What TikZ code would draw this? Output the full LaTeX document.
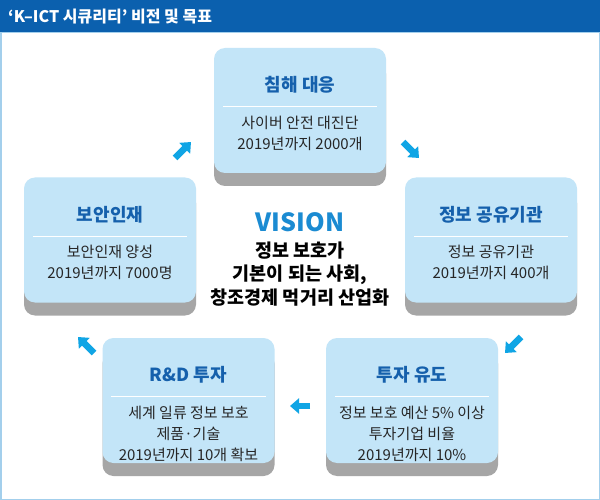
\documentclass[tikz,border=0pt]{standalone}
\usepackage{fontspec}
\setmainfont{Noto Sans CJK KR}
\usetikzlibrary{arrows.meta, positioning, calc}
\definecolor{barblue}{HTML}{0B60AE}
\definecolor{boxblue}{HTML}{C3E5F8}
\definecolor{headblue}{HTML}{1560AC}
\definecolor{visblue}{HTML}{1B8BD2}
\definecolor{arrblue}{HTML}{10A5E5}
\definecolor{frameblue}{HTML}{A3CFEC}
\tikzset{
  goal/.style  = {fill=boxblue, rounded corners=11pt, minimum width=172pt,
                  minimum height=125pt, inner sep=0pt},
  base/.style  = {fill=black!35, rounded corners=11pt},
  head/.style  = {font=\fontsize{18}{20}\bfseries, text=headblue},
  body/.style  = {font=\fontsize{15}{21}\selectfont, text=black!85,
                  align=center, anchor=north, inner sep=0pt},
  sep/.style   = {white, line width=0.9pt},
  turn/.style  = {arrblue, line width=6.5pt, -{Triangle[length=9pt, width=15pt]}},
  vision/.style= {font=\fontsize{18.5}{23.5}\selectfont\bfseries, align=center},
}
% one goal card: name, centre, title, lines
\newcommand{\goalcard}[4]{
  \fill[base] ($(#2)+(-86,-48)$) rectangle ($(#2)+(86,75.5)$);
  \node[goal] (#1) at (#2) {};
  \node[head] (#1-t) at ([yshift=-37pt]#1.north) {#3};
  \draw[sep] ([xshift=9pt, yshift=-59pt]#1.north west) -- ([xshift=-9pt, yshift=-59pt]#1.north east);
  \node[body] (#1-b) at ([yshift=-68pt]#1.north) {#4};
}

\begin{document}
\begin{tikzpicture}[x=1pt, y=-1pt]
  \useasboundingbox (0,0) rectangle (600,500);
  \fill[white] (0,0) rectangle (600,500);
  \draw[frameblue, line width=1.5pt] (0.75,32) rectangle (599.25,499.25);
  \fill[barblue] (0,0) rectangle (600,32);
  \node[anchor=west, text=white, font=\fontsize{16}{18}\bfseries, inner sep=0pt] (title)
    at (8,16.5) {‘K–ICT 시큐리티’ 비전 및 목표};

  \goalcard{threat}{300,110.5}{침해 대응}{사이버 안전 대진단\\2019년까지 2000개}
  \goalcard{share}{491,240}{정보 공유기관}{정보 공유기관\\2019년까지 400개}
  \goalcard{talent}{110,240}{보안인재}{보안인재 양성\\2019년까지 7000명}
  \goalcard{rnd}{188.5,400.5}{R\&D 투자}{세계 일류 정보 보호\\제품·기술\\2019년까지 10개 확보}
  \goalcard{invest}{412,400.5}{투자 유도}{정보 보호 예산 5\% 이상\\투자기업 비율\\2019년까지 10\%}

  \node[font=\fontsize{25}{26}\bfseries, text=visblue] (vis) at (300,222) {VISION};
  \node[vision, below=3pt of vis] (goaltxt) {정보 보호가\\기본이 되는 사회,\\창조경제 먹거리 산업화};

  \coordinate (t1) at (183,150);
  \coordinate (t2) at (411,150);
  \coordinate (t3) at (513,345);
  \coordinate (t4) at (300,406);
  \coordinate (t5) at (86,345);
  \draw[turn] ([shift={(-8,8)}]t1) -- ([shift={(8,-8)}]t1);
  \draw[turn] ([shift={(-8,-8)}]t2) -- ([shift={(8,8)}]t2);
  \draw[turn] ([shift={(8,-8)}]t3) -- ([shift={(-8,8)}]t3);
  \draw[turn] ([xshift=10pt]t4) -- ([xshift=-10pt]t4);
  \draw[turn] ([shift={(8,8)}]t5) -- ([shift={(-8,-8)}]t5);
\end{tikzpicture}
\end{document}
